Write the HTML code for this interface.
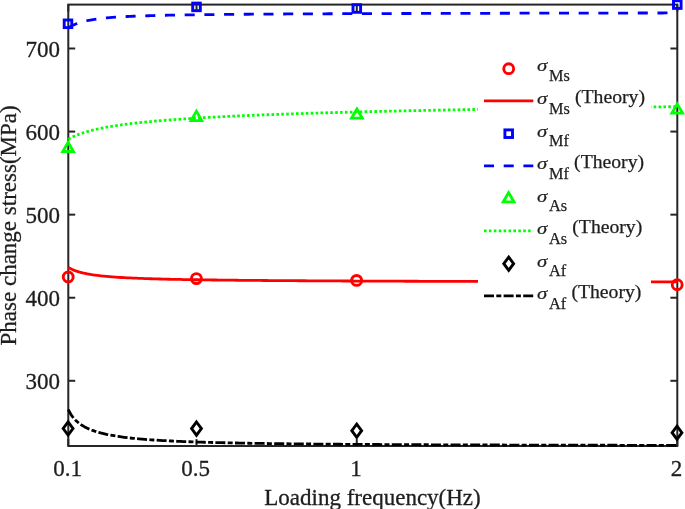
<!DOCTYPE html>
<html><head><meta charset="utf-8"><style>
html,body{margin:0;padding:0;background:#fff;width:685px;height:509px;overflow:hidden;font-family:"Liberation Serif",serif;}
svg{display:block;will-change:transform;}
</style></head><body>
<svg width="685" height="509" viewBox="0 0 685 509">
<rect width="685" height="509" fill="#fff"/>
<g stroke="#262626" stroke-width="2" fill="none" stroke-linecap="butt">
<rect x="68.30" y="4.60" width="609.00" height="441.40"/>
<line x1="68.30" y1="380.80" x2="75.20" y2="380.80"/>
<line x1="677.30" y1="380.80" x2="670.40" y2="380.80"/>
<line x1="68.30" y1="297.73" x2="75.20" y2="297.73"/>
<line x1="677.30" y1="297.73" x2="670.40" y2="297.73"/>
<line x1="68.30" y1="214.65" x2="75.20" y2="214.65"/>
<line x1="677.30" y1="214.65" x2="670.40" y2="214.65"/>
<line x1="68.30" y1="131.57" x2="75.20" y2="131.57"/>
<line x1="677.30" y1="131.57" x2="670.40" y2="131.57"/>
<line x1="68.30" y1="48.50" x2="75.20" y2="48.50"/>
<line x1="677.30" y1="48.50" x2="670.40" y2="48.50"/>
<line x1="68.30" y1="446.00" x2="68.30" y2="439.10"/>
<line x1="68.30" y1="4.60" x2="68.30" y2="11.50"/>
<line x1="196.51" y1="446.00" x2="196.51" y2="439.10"/>
<line x1="196.51" y1="4.60" x2="196.51" y2="11.50"/>
<line x1="356.77" y1="446.00" x2="356.77" y2="439.10"/>
<line x1="356.77" y1="4.60" x2="356.77" y2="11.50"/>
<line x1="677.30" y1="446.00" x2="677.30" y2="439.10"/>
<line x1="677.30" y1="4.60" x2="677.30" y2="11.50"/>
</g>
<g font-family="Liberation Serif" font-size="23" fill="#1e1e1e" stroke="#1e1e1e" stroke-width="0.3">
<text x="60.1" y="389.20" text-anchor="end">300</text>
<text x="60.1" y="306.12" text-anchor="end">400</text>
<text x="60.1" y="223.05" text-anchor="end">500</text>
<text x="60.1" y="139.97" text-anchor="end">600</text>
<text x="60.1" y="56.90" text-anchor="end">700</text>
<text x="67.50" y="475.50" text-anchor="middle">0.1</text>
<text x="195.71" y="475.50" text-anchor="middle">0.5</text>
<text x="355.97" y="475.50" text-anchor="middle">1</text>
<text x="676.50" y="475.50" text-anchor="middle">2</text>
<text x="372.5" y="504.5" text-anchor="middle">Loading frequency(Hz)</text>
<text transform="translate(15.9,225.4) rotate(-90)" x="0" y="0" text-anchor="middle">Phase change stress(MPa)</text>
</g>
<polyline points="68.30,267.52 68.80,267.80 69.30,268.08 69.80,268.34 70.30,268.59 70.80,268.84 71.30,269.08 71.80,269.31 72.30,269.53 72.80,269.74 73.30,269.95 73.80,270.15 74.30,270.34 74.80,270.53 75.30,270.71 75.80,270.89 76.30,271.06 76.80,271.23 77.30,271.39 77.80,271.55 78.30,271.70 78.80,271.85 79.30,272.00 79.80,272.14 80.30,272.27 80.80,272.41 81.30,272.54 81.80,272.66 82.30,272.79 82.80,272.91 83.30,273.02 83.80,273.14 84.30,273.25 84.80,273.36 85.30,273.46 85.80,273.57 86.30,273.67 86.80,273.77 87.30,273.86 87.80,273.96 88.30,274.05 88.80,274.14 91.76,274.64 94.71,275.07 97.67,275.46 100.63,275.81 103.59,276.12 106.54,276.41 109.50,276.66 112.46,276.90 115.42,277.11 118.37,277.31 121.33,277.49 124.29,277.66 127.24,277.82 130.20,277.96 133.16,278.10 136.12,278.22 139.07,278.34 142.03,278.46 144.99,278.56 147.95,278.66 150.90,278.75 153.86,278.84 156.82,278.93 159.77,279.01 162.73,279.08 165.69,279.16 168.65,279.23 171.60,279.29 174.56,279.35 177.52,279.41 180.48,279.47 183.43,279.53 186.39,279.58 189.35,279.63 192.31,279.68 195.26,279.73 198.22,279.77 201.18,279.82 204.13,279.86 207.09,279.90 210.05,279.94 213.01,279.98 215.96,280.02 218.92,280.05 221.88,280.09 224.84,280.12 227.79,280.16 230.75,280.19 233.71,280.22 236.66,280.25 239.62,280.28 242.58,280.31 245.54,280.33 248.49,280.36 251.45,280.39 254.41,280.41 257.37,280.44 260.32,280.46 263.28,280.49 266.24,280.51 269.19,280.53 272.15,280.56 275.11,280.58 278.07,280.60 281.02,280.62 283.98,280.64 286.94,280.66 289.90,280.68 292.85,280.70 295.81,280.72 298.77,280.74 301.72,280.75 304.68,280.77 307.64,280.79 310.60,280.81 313.55,280.82 316.51,280.84 319.47,280.86 322.43,280.87 325.38,280.89 328.34,280.90 331.30,280.92 334.25,280.93 337.21,280.95 340.17,280.96 343.13,280.98 346.08,280.99 349.04,281.00 352.00,281.02 354.96,281.03 357.91,281.04 360.87,281.06 363.83,281.07 366.78,281.08 369.74,281.10 372.70,281.11 375.66,281.12 378.61,281.13 381.57,281.14 384.53,281.15 387.49,281.17 390.44,281.18 393.40,281.19 396.36,281.20 399.32,281.21 402.27,281.22 405.23,281.23 408.19,281.24 411.14,281.25 414.10,281.26 417.06,281.27 420.02,281.28 422.97,281.29 425.93,281.30 428.89,281.31 431.85,281.32 434.80,281.33 437.76,281.34 440.72,281.35 443.67,281.36 446.63,281.37 449.59,281.38 452.55,281.38 455.50,281.39 458.46,281.40 461.42,281.41 464.38,281.42 467.33,281.43 470.29,281.43 473.25,281.44 476.20,281.45 479.16,281.46 482.12,281.47 485.08,281.47 488.03,281.48 490.99,281.49 493.95,281.50 496.91,281.51 499.86,281.51 502.82,281.52 505.78,281.53 508.73,281.53 511.69,281.54 514.65,281.55 517.61,281.56 520.56,281.56 523.52,281.57 526.48,281.58 529.44,281.58 532.39,281.59 535.35,281.60 538.31,281.60 541.26,281.61 544.22,281.62 547.18,281.62 550.14,281.63 553.09,281.64 556.05,281.64 559.01,281.65 561.97,281.66 564.92,281.66 567.88,281.67 570.84,281.67 573.79,281.68 576.75,281.69 579.71,281.69 582.67,281.70 585.62,281.70 588.58,281.71 591.54,281.72 594.50,281.72 597.45,281.73 600.41,281.73 603.37,281.74 606.33,281.74 609.28,281.75 612.24,281.76 615.20,281.76 618.15,281.77 621.11,281.77 624.07,281.78 627.03,281.78 629.98,281.79 632.94,281.79 635.90,281.80 638.86,281.80 641.81,281.81 644.77,281.81 647.73,281.82 650.68,281.82 653.64,281.83 656.60,281.83 659.56,281.84 662.51,281.84 665.47,281.85 668.43,281.85 671.39,281.86 674.34,281.86 677.30,281.87" fill="none" stroke="#ff0000" stroke-width="2.80"  stroke-linejoin="round"/>
<circle cx="68.20" cy="277.00" r="4.95" fill="none" stroke="#ff0000" stroke-width="2.90"/>
<circle cx="196.40" cy="278.60" r="4.95" fill="none" stroke="#ff0000" stroke-width="2.90"/>
<circle cx="356.60" cy="280.40" r="4.95" fill="none" stroke="#ff0000" stroke-width="2.90"/>
<circle cx="677.20" cy="284.70" r="4.95" fill="none" stroke="#ff0000" stroke-width="2.90"/>
<polyline points="68.30,28.07 68.80,27.72 69.30,27.39 69.80,27.06 70.30,26.75 70.80,26.45 71.30,26.17 71.80,25.89 72.30,25.62 72.80,25.37 73.30,25.12 73.80,24.88 74.30,24.65 74.80,24.42 75.30,24.21 75.80,24.00 76.30,23.80 76.80,23.60 77.30,23.41 77.80,23.23 78.30,23.05 78.80,22.88 79.30,22.72 79.80,22.55 80.30,22.40 80.80,22.25 81.30,22.10 81.80,21.95 82.30,21.82 82.80,21.68 83.30,21.55 83.80,21.42 84.30,21.30 84.80,21.17 85.30,21.06 85.80,20.94 86.30,20.83 86.80,20.72 87.30,20.61 87.80,20.51 88.30,20.41 88.80,20.31 91.76,19.77 94.71,19.30 97.67,18.89 100.63,18.53 103.59,18.21 106.54,17.92 109.50,17.66 112.46,17.42 115.42,17.21 118.37,17.01 121.33,16.83 124.29,16.67 127.24,16.52 130.20,16.38 133.16,16.25 136.12,16.13 139.07,16.02 142.03,15.91 144.99,15.82 147.95,15.73 150.90,15.64 153.86,15.56 156.82,15.48 159.77,15.41 162.73,15.34 165.69,15.27 168.65,15.21 171.60,15.15 174.56,15.10 177.52,15.04 180.48,14.99 183.43,14.94 186.39,14.90 189.35,14.85 192.31,14.81 195.26,14.77 198.22,14.73 201.18,14.69 204.13,14.65 207.09,14.62 210.05,14.58 213.01,14.55 215.96,14.52 218.92,14.49 221.88,14.46 224.84,14.43 227.79,14.40 230.75,14.37 233.71,14.35 236.66,14.32 239.62,14.30 242.58,14.27 245.54,14.25 248.49,14.23 251.45,14.20 254.41,14.18 257.37,14.16 260.32,14.14 263.28,14.12 266.24,14.10 269.19,14.08 272.15,14.06 275.11,14.04 278.07,14.02 281.02,14.01 283.98,13.99 286.94,13.97 289.90,13.96 292.85,13.94 295.81,13.92 298.77,13.91 301.72,13.89 304.68,13.88 307.64,13.86 310.60,13.85 313.55,13.84 316.51,13.82 319.47,13.81 322.43,13.80 325.38,13.78 328.34,13.77 331.30,13.76 334.25,13.74 337.21,13.73 340.17,13.72 343.13,13.71 346.08,13.70 349.04,13.69 352.00,13.67 354.96,13.66 357.91,13.65 360.87,13.64 363.83,13.63 366.78,13.62 369.74,13.61 372.70,13.60 375.66,13.59 378.61,13.58 381.57,13.57 384.53,13.56 387.49,13.55 390.44,13.54 393.40,13.53 396.36,13.52 399.32,13.51 402.27,13.50 405.23,13.50 408.19,13.49 411.14,13.48 414.10,13.47 417.06,13.46 420.02,13.45 422.97,13.44 425.93,13.44 428.89,13.43 431.85,13.42 434.80,13.41 437.76,13.40 440.72,13.40 443.67,13.39 446.63,13.38 449.59,13.37 452.55,13.37 455.50,13.36 458.46,13.35 461.42,13.35 464.38,13.34 467.33,13.33 470.29,13.32 473.25,13.32 476.20,13.31 479.16,13.30 482.12,13.30 485.08,13.29 488.03,13.28 490.99,13.28 493.95,13.27 496.91,13.26 499.86,13.26 502.82,13.25 505.78,13.25 508.73,13.24 511.69,13.23 514.65,13.23 517.61,13.22 520.56,13.22 523.52,13.21 526.48,13.20 529.44,13.20 532.39,13.19 535.35,13.19 538.31,13.18 541.26,13.17 544.22,13.17 547.18,13.16 550.14,13.16 553.09,13.15 556.05,13.15 559.01,13.14 561.97,13.14 564.92,13.13 567.88,13.13 570.84,13.12 573.79,13.12 576.75,13.11 579.71,13.11 582.67,13.10 585.62,13.10 588.58,13.09 591.54,13.09 594.50,13.08 597.45,13.08 600.41,13.07 603.37,13.07 606.33,13.06 609.28,13.06 612.24,13.05 615.20,13.05 618.15,13.04 621.11,13.04 624.07,13.03 627.03,13.03 629.98,13.02 632.94,13.02 635.90,13.01 638.86,13.01 641.81,13.01 644.77,13.00 647.73,13.00 650.68,12.99 653.64,12.99 656.60,12.98 659.56,12.98 662.51,12.98 665.47,12.97 668.43,12.97 671.39,12.96 674.34,12.96 677.30,12.95" fill="none" stroke="#0000ff" stroke-width="2.80" stroke-dasharray="10.05 9.65" stroke-linejoin="round"/>
<rect x="64.20" y="20.00" width="7.60" height="7.60" fill="none" stroke="#0000ff" stroke-width="2.90"/>
<rect x="192.70" y="3.10" width="7.60" height="7.60" fill="none" stroke="#0000ff" stroke-width="2.90"/>
<rect x="353.00" y="4.70" width="7.60" height="7.60" fill="none" stroke="#0000ff" stroke-width="2.90"/>
<rect x="673.50" y="0.80" width="7.60" height="7.60" fill="none" stroke="#0000ff" stroke-width="2.90"/>
<polyline points="68.30,139.18 68.80,138.90 69.30,138.62 69.80,138.36 70.30,138.10 70.80,137.84 71.30,137.59 71.80,137.35 72.30,137.11 72.80,136.87 73.30,136.64 73.80,136.42 74.30,136.19 74.80,135.98 75.30,135.77 75.80,135.56 76.30,135.35 76.80,135.15 77.30,134.95 77.80,134.76 78.30,134.57 78.80,134.38 79.30,134.20 79.80,134.01 80.30,133.84 80.80,133.66 81.30,133.49 81.80,133.32 82.30,133.15 82.80,132.99 83.30,132.82 83.80,132.66 84.30,132.51 84.80,132.35 85.30,132.20 85.80,132.05 86.30,131.90 86.80,131.76 87.30,131.61 87.80,131.47 88.30,131.33 88.80,131.19 91.76,130.41 94.71,129.69 97.67,129.01 100.63,128.39 103.59,127.80 106.54,127.24 109.50,126.72 112.46,126.22 115.42,125.76 118.37,125.31 121.33,124.89 124.29,124.48 127.24,124.10 130.20,123.73 133.16,123.37 136.12,123.03 139.07,122.71 142.03,122.39 144.99,122.09 147.95,121.80 150.90,121.52 153.86,121.25 156.82,120.98 159.77,120.73 162.73,120.48 165.69,120.24 168.65,120.01 171.60,119.79 174.56,119.57 177.52,119.35 180.48,119.15 183.43,118.94 186.39,118.75 189.35,118.56 192.31,118.37 195.26,118.19 198.22,118.01 201.18,117.83 204.13,117.66 207.09,117.50 210.05,117.34 213.01,117.18 215.96,117.02 218.92,116.87 221.88,116.72 224.84,116.57 227.79,116.43 230.75,116.29 233.71,116.15 236.66,116.01 239.62,115.88 242.58,115.75 245.54,115.62 248.49,115.50 251.45,115.37 254.41,115.25 257.37,115.13 260.32,115.01 263.28,114.90 266.24,114.78 269.19,114.67 272.15,114.56 275.11,114.45 278.07,114.34 281.02,114.24 283.98,114.13 286.94,114.03 289.90,113.93 292.85,113.83 295.81,113.73 298.77,113.64 301.72,113.54 304.68,113.45 307.64,113.35 310.60,113.26 313.55,113.17 316.51,113.08 319.47,113.00 322.43,112.91 325.38,112.82 328.34,112.74 331.30,112.65 334.25,112.57 337.21,112.49 340.17,112.41 343.13,112.33 346.08,112.25 349.04,112.17 352.00,112.09 354.96,112.02 357.91,111.94 360.87,111.87 363.83,111.79 366.78,111.72 369.74,111.65 372.70,111.58 375.66,111.51 378.61,111.44 381.57,111.37 384.53,111.30 387.49,111.23 390.44,111.16 393.40,111.10 396.36,111.03 399.32,110.97 402.27,110.90 405.23,110.84 408.19,110.78 411.14,110.71 414.10,110.65 417.06,110.59 420.02,110.53 422.97,110.47 425.93,110.41 428.89,110.35 431.85,110.29 434.80,110.23 437.76,110.17 440.72,110.12 443.67,110.06 446.63,110.00 449.59,109.95 452.55,109.89 455.50,109.84 458.46,109.78 461.42,109.73 464.38,109.67 467.33,109.62 470.29,109.57 473.25,109.52 476.20,109.46 479.16,109.41 482.12,109.36 485.08,109.31 488.03,109.26 490.99,109.21 493.95,109.16 496.91,109.11 499.86,109.06 502.82,109.02 505.78,108.97 508.73,108.92 511.69,108.87 514.65,108.83 517.61,108.78 520.56,108.73 523.52,108.69 526.48,108.64 529.44,108.60 532.39,108.55 535.35,108.51 538.31,108.46 541.26,108.42 544.22,108.37 547.18,108.33 550.14,108.29 553.09,108.24 556.05,108.20 559.01,108.16 561.97,108.12 564.92,108.07 567.88,108.03 570.84,107.99 573.79,107.95 576.75,107.91 579.71,107.87 582.67,107.83 585.62,107.79 588.58,107.75 591.54,107.71 594.50,107.67 597.45,107.63 600.41,107.59 603.37,107.55 606.33,107.51 609.28,107.48 612.24,107.44 615.20,107.40 618.15,107.36 621.11,107.33 624.07,107.29 627.03,107.25 629.98,107.22 632.94,107.18 635.90,107.14 638.86,107.11 641.81,107.07 644.77,107.04 647.73,107.00 650.68,106.97 653.64,106.93 656.60,106.90 659.56,106.86 662.51,106.83 665.47,106.79 668.43,106.76 671.39,106.72 674.34,106.69 677.30,106.66" fill="none" stroke="#00ff00" stroke-width="2.80" stroke-dasharray="2.6 2.3" stroke-linejoin="round"/>
<path d="M68.10 139.50L60.30 152.90L75.90 152.90ZM68.10 145.07L71.03 150.10L65.17 150.10Z" fill="#00ff00" fill-rule="evenodd"/>
<path d="M196.40 108.55L188.60 121.95L204.20 121.95ZM196.40 114.12L199.33 119.15L193.47 119.15Z" fill="#00ff00" fill-rule="evenodd"/>
<path d="M356.90 106.20L349.10 119.60L364.70 119.60ZM356.90 111.77L359.83 116.80L353.97 116.80Z" fill="#00ff00" fill-rule="evenodd"/>
<path d="M677.20 101.20L669.40 114.60L685.00 114.60ZM677.20 106.77L680.13 111.80L674.27 111.80Z" fill="#00ff00" fill-rule="evenodd"/>
<polyline points="68.30,409.48 68.80,410.54 69.30,411.53 69.80,412.45 70.30,413.33 70.80,414.15 71.30,414.93 71.80,415.66 72.30,416.36 72.80,417.02 73.30,417.65 73.80,418.25 74.30,418.82 74.80,419.37 75.30,419.89 75.80,420.40 76.30,420.88 76.80,421.34 77.30,421.79 77.80,422.21 78.30,422.63 78.80,423.03 79.30,423.41 79.80,423.78 80.30,424.14 80.80,424.49 81.30,424.82 81.80,425.15 82.30,425.47 82.80,425.77 83.30,426.07 83.80,426.36 84.30,426.64 84.80,426.92 85.30,427.18 85.80,427.44 86.30,427.69 86.80,427.94 87.30,428.18 87.80,428.41 88.30,428.64 88.80,428.86 91.76,430.07 94.71,431.13 97.67,432.07 100.63,432.90 103.59,433.65 106.54,434.33 109.50,434.94 112.46,435.49 115.42,436.00 118.37,436.47 121.33,436.89 124.29,437.29 127.24,437.65 130.20,437.99 133.16,438.31 136.12,438.60 139.07,438.88 142.03,439.14 144.99,439.38 147.95,439.60 150.90,439.82 153.86,440.02 156.82,440.21 159.77,440.39 162.73,440.56 165.69,440.72 168.65,440.87 171.60,441.02 174.56,441.15 177.52,441.29 180.48,441.41 183.43,441.53 186.39,441.64 189.35,441.75 192.31,441.86 195.26,441.96 198.22,442.05 201.18,442.15 204.13,442.23 207.09,442.32 210.05,442.40 213.01,442.48 215.96,442.55 218.92,442.63 221.88,442.70 224.84,442.76 227.79,442.83 230.75,442.89 233.71,442.95 236.66,443.01 239.62,443.07 242.58,443.12 245.54,443.18 248.49,443.23 251.45,443.28 254.41,443.32 257.37,443.37 260.32,443.42 263.28,443.46 266.24,443.50 269.19,443.54 272.15,443.58 275.11,443.62 278.07,443.66 281.02,443.70 283.98,443.74 286.94,443.77 289.90,443.80 292.85,443.84 295.81,443.87 298.77,443.90 301.72,443.93 304.68,443.96 307.64,443.99 310.60,444.02 313.55,444.05 316.51,444.07 319.47,444.10 322.43,444.13 325.38,444.15 328.34,444.18 331.30,444.20 334.25,444.22 337.21,444.25 340.17,444.27 343.13,444.29 346.08,444.31 349.04,444.33 352.00,444.35 354.96,444.37 357.91,444.39 360.87,444.41 363.83,444.43 366.78,444.45 369.74,444.47 372.70,444.49 375.66,444.50 378.61,444.52 381.57,444.54 384.53,444.55 387.49,444.57 390.44,444.59 393.40,444.60 396.36,444.62 399.32,444.63 402.27,444.65 405.23,444.66 408.19,444.68 411.14,444.69 414.10,444.70 417.06,444.72 420.02,444.73 422.97,444.74 425.93,444.75 428.89,444.77 431.85,444.78 434.80,444.79 437.76,444.80 440.72,444.82 443.67,444.83 446.63,444.84 449.59,444.85 452.55,444.86 455.50,444.87 458.46,444.88 461.42,444.89 464.38,444.90 467.33,444.91 470.29,444.92 473.25,444.93 476.20,444.94 479.16,444.95 482.12,444.96 485.08,444.97 488.03,444.98 490.99,444.99 493.95,445.00 496.91,445.00 499.86,445.01 502.82,445.02 505.78,445.03 508.73,445.04 511.69,445.05 514.65,445.05 517.61,445.06 520.56,445.07 523.52,445.08 526.48,445.08 529.44,445.09 532.39,445.10 535.35,445.11 538.31,445.11 541.26,445.12 544.22,445.13 547.18,445.13 550.14,445.14 553.09,445.15 556.05,445.15 559.01,445.16 561.97,445.17 564.92,445.17 567.88,445.18 570.84,445.19 573.79,445.19 576.75,445.20 579.71,445.20 582.67,445.21 585.62,445.22 588.58,445.22 591.54,445.23 594.50,445.23 597.45,445.24 600.41,445.24 603.37,445.25 606.33,445.25 609.28,445.26 612.24,445.26 615.20,445.27 618.15,445.27 621.11,445.28 624.07,445.28 627.03,445.29 629.98,445.29 632.94,445.30 635.90,445.30 638.86,445.31 641.81,445.31 644.77,445.32 647.73,445.32 650.68,445.33 653.64,445.33 656.60,445.33 659.56,445.34 662.51,445.34 665.47,445.35 668.43,445.35 671.39,445.36 674.34,445.36 677.30,445.36" fill="none" stroke="#000000" stroke-width="2.80" stroke-dasharray="10 2.3 5 2.3" stroke-linejoin="round"/>
<polygon points="68.10,421.90 73.00,428.50 68.10,435.10 63.20,428.50" fill="none" stroke="#000000" stroke-width="2.90" stroke-linejoin="miter" stroke-miterlimit="10"/>
<polygon points="196.50,422.00 201.40,428.60 196.50,435.20 191.60,428.60" fill="none" stroke="#000000" stroke-width="2.90" stroke-linejoin="miter" stroke-miterlimit="10"/>
<polygon points="356.70,424.10 361.60,430.70 356.70,437.30 351.80,430.70" fill="none" stroke="#000000" stroke-width="2.90" stroke-linejoin="miter" stroke-miterlimit="10"/>
<polygon points="677.00,426.10 681.90,432.70 677.00,439.30 672.10,432.70" fill="none" stroke="#000000" stroke-width="2.90" stroke-linejoin="miter" stroke-miterlimit="10"/>
<rect x="478" y="45" width="173" height="268" fill="#fff"/>
<circle cx="508.70" cy="68.70" r="4.95" fill="none" stroke="#ff0000" stroke-width="2.90"/>
<line x1="484" y1="100.80" x2="533.3" y2="100.80" stroke="#ff0000" stroke-width="2.80" />
<text transform="translate(536.90 71.40) scale(1.040 0.840)" font-family="Liberation Serif" font-style="italic" font-size="20.0" fill="#1e1e1e" stroke="#1e1e1e" stroke-width="0.25">&#963;</text>
<text x="549.00" y="80.95" font-family="Liberation Serif" fill="#1e1e1e" stroke="#1e1e1e" stroke-width="0.25"><tspan font-size="16.3">Ms</tspan></text>
<text transform="translate(536.90 103.95) scale(1.040 0.840)" font-family="Liberation Serif" font-style="italic" font-size="20.0" fill="#1e1e1e" stroke="#1e1e1e" stroke-width="0.25">&#963;</text>
<text x="549.00" y="113.50" font-family="Liberation Serif" fill="#1e1e1e" stroke="#1e1e1e" stroke-width="0.25"><tspan font-size="16.3">Ms</tspan><tspan font-size="19.7" dx="5.20" dy="-10.50">(Theory)</tspan></text>
<rect x="504.90" y="129.90" width="7.60" height="7.60" fill="none" stroke="#0000ff" stroke-width="2.90"/>
<line x1="484" y1="165.80" x2="533.3" y2="165.80" stroke="#0000ff" stroke-width="2.80" stroke-dasharray="10.05 9.65"/>
<text transform="translate(536.90 136.50) scale(1.040 0.840)" font-family="Liberation Serif" font-style="italic" font-size="20.0" fill="#1e1e1e" stroke="#1e1e1e" stroke-width="0.25">&#963;</text>
<text x="549.00" y="146.05" font-family="Liberation Serif" fill="#1e1e1e" stroke="#1e1e1e" stroke-width="0.25"><tspan font-size="16.3">Mf</tspan></text>
<text transform="translate(536.90 169.05) scale(1.040 0.840)" font-family="Liberation Serif" font-style="italic" font-size="20.0" fill="#1e1e1e" stroke="#1e1e1e" stroke-width="0.25">&#963;</text>
<text x="549.00" y="178.60" font-family="Liberation Serif" fill="#1e1e1e" stroke="#1e1e1e" stroke-width="0.25"><tspan font-size="16.3">Mf</tspan><tspan font-size="19.7" dx="5.20" dy="-10.50">(Theory)</tspan></text>
<path d="M508.60 189.85L500.80 203.25L516.40 203.25ZM508.60 195.42L511.53 200.45L505.67 200.45Z" fill="#00ff00" fill-rule="evenodd"/>
<line x1="484" y1="230.80" x2="531.8" y2="230.80" stroke="#00ff00" stroke-width="2.80" stroke-dasharray="2.6 2.3"/>
<text transform="translate(536.90 201.60) scale(1.040 0.840)" font-family="Liberation Serif" font-style="italic" font-size="20.0" fill="#1e1e1e" stroke="#1e1e1e" stroke-width="0.25">&#963;</text>
<text x="549.00" y="211.15" font-family="Liberation Serif" fill="#1e1e1e" stroke="#1e1e1e" stroke-width="0.25"><tspan font-size="16.3">As</tspan></text>
<text transform="translate(536.90 234.15) scale(1.040 0.840)" font-family="Liberation Serif" font-style="italic" font-size="20.0" fill="#1e1e1e" stroke="#1e1e1e" stroke-width="0.25">&#963;</text>
<text x="549.00" y="243.70" font-family="Liberation Serif" fill="#1e1e1e" stroke="#1e1e1e" stroke-width="0.25"><tspan font-size="16.3">As</tspan><tspan font-size="19.7" dx="5.20" dy="-10.50">(Theory)</tspan></text>
<polygon points="508.70,257.10 513.60,263.70 508.70,270.30 503.80,263.70" fill="none" stroke="#000000" stroke-width="2.90" stroke-linejoin="miter" stroke-miterlimit="10"/>
<line x1="484" y1="295.80" x2="533.3" y2="295.80" stroke="#000000" stroke-width="2.80" stroke-dasharray="10 2.3 5 2.3"/>
<text transform="translate(536.90 266.70) scale(1.040 0.840)" font-family="Liberation Serif" font-style="italic" font-size="20.0" fill="#1e1e1e" stroke="#1e1e1e" stroke-width="0.25">&#963;</text>
<text x="549.00" y="276.25" font-family="Liberation Serif" fill="#1e1e1e" stroke="#1e1e1e" stroke-width="0.25"><tspan font-size="16.3">Af</tspan></text>
<text transform="translate(536.90 299.25) scale(1.040 0.840)" font-family="Liberation Serif" font-style="italic" font-size="20.0" fill="#1e1e1e" stroke="#1e1e1e" stroke-width="0.25">&#963;</text>
<text x="549.00" y="308.80" font-family="Liberation Serif" fill="#1e1e1e" stroke="#1e1e1e" stroke-width="0.25"><tspan font-size="16.3">Af</tspan><tspan font-size="19.7" dx="5.20" dy="-10.50">(Theory)</tspan></text>
</svg>
</body></html>
